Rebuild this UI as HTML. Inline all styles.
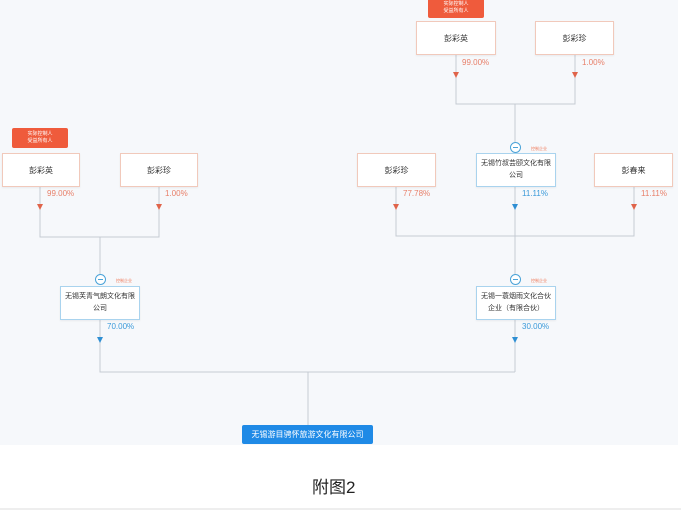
<!DOCTYPE html>
<html><head><meta charset="utf-8"><style>
body{margin:0;width:681px;height:511px;background:#fff;position:relative;overflow:hidden;font-family:"Liberation Sans","Noto Sans CJK SC",sans-serif}
.bg{position:absolute;left:0;top:0;width:678px;height:445px;background:#f6f8fb}
.b{position:absolute;background:#fff;border:1px solid #f1c9bb;box-sizing:border-box;font-size:8px;color:#333;display:flex;align-items:center;justify-content:center;text-align:center;line-height:13px;box-shadow:0 1px 2px rgba(0,0,0,.06);white-space:nowrap}
.c{border-color:#a9d3ee;font-size:7px;line-height:12px}
.t{position:absolute;background:#ef5b3c;color:#fff;font-size:5px;line-height:7px;text-align:center;border-radius:2px;padding-top:3px;box-sizing:border-box}
.p{position:absolute;font-size:8px;color:#e8806a}
.q{color:#3b9ad9}
.s{position:absolute;font-size:4px;color:#ef7a5a}
.ci{position:absolute;width:11px;height:11px;border:1px solid #4aa3d8;border-radius:50%;background:#fff;box-sizing:border-box}
.ci:after{content:"";position:absolute;left:2px;top:4px;width:5px;height:1px;background:#4aa3d8}
</style></head><body>
<div class="bg"></div>
<svg style="position:absolute;left:0;top:0" width="681" height="511">
<g stroke="#c5cbd3" stroke-width="1" fill="none">
<path d="M40 187V237H159V187M100 237V275M100 319V372H515M515 319V372M308 372V426"/>
<path d="M456 55V104H575V55M515 104V143M396 187V236H634V187M515 187V275"/>
</g>
<g fill="#e0644a">
<path d="M37 204h6l-3 6z"/><path d="M156 204h6l-3 6z"/>
<path d="M453 72h6l-3 6z"/><path d="M572 72h6l-3 6z"/>
<path d="M393 204h6l-3 6z"/><path d="M631 204h6l-3 6z"/>
</g>
<g fill="#2f8fd3">
<path d="M512 204h6l-3 6z"/><path d="M97 337h6l-3 6z"/><path d="M512 337h6l-3 6z"/>
</g>
<line x1="0" y1="509" x2="681" y2="509" stroke="#ddd"/>
</svg>
<div class="t" style="left:12px;top:128px;width:56px;height:20px">实际控制人<br>受益所有人</div>
<div class="b" style="left:2px;top:153px;width:78px;height:34px">彭彩英</div>
<div class="b" style="left:120px;top:153px;width:78px;height:34px">彭彩珍</div>
<div class="p" style="left:47px;top:189px">99.00%</div>
<div class="p" style="left:165px;top:189px">1.00%</div>
<div class="ci" style="left:95px;top:274px"></div>
<div class="s" style="left:116px;top:278px">控制企业</div>
<div class="b c" style="left:60px;top:286px;width:80px;height:34px">无锡芙青气朗文化有限<br>公司</div>
<div class="p q" style="left:107px;top:322px">70.00%</div>

<div class="t" style="left:428px;top:-2px;width:56px;height:20px">实际控制人<br>受益所有人</div>
<div class="b" style="left:416px;top:21px;width:80px;height:34px">彭彩英</div>
<div class="b" style="left:535px;top:21px;width:79px;height:34px">彭彩珍</div>
<div class="p" style="left:462px;top:58px">99.00%</div>
<div class="p" style="left:582px;top:58px">1.00%</div>
<div class="ci" style="left:510px;top:142px"></div>
<div class="s" style="left:531px;top:146px">控制企业</div>
<div class="b" style="left:357px;top:153px;width:79px;height:34px">彭彩珍</div>
<div class="b c" style="left:476px;top:153px;width:80px;height:34px">无锡竹叔芸颐文化有限<br>公司</div>
<div class="b" style="left:594px;top:153px;width:79px;height:34px">彭春来</div>
<div class="p" style="left:403px;top:189px">77.78%</div>
<div class="p q" style="left:522px;top:189px">11.11%</div>
<div class="p" style="left:641px;top:189px">11.11%</div>
<div class="ci" style="left:510px;top:274px"></div>
<div class="s" style="left:531px;top:278px">控制企业</div>
<div class="b c" style="left:476px;top:286px;width:80px;height:34px">无锡一蓑烟雨文化合伙<br>企业（有限合伙）</div>
<div class="p q" style="left:522px;top:322px">30.00%</div>

<div style="position:absolute;left:242px;top:425px;width:131px;height:19px;background:#1f8ae6;border-radius:2px;color:#fff;font-size:8px;line-height:19px;text-align:center">无锡游目骋怀旅游文化有限公司</div>
<div style="position:absolute;left:312px;top:473px;font-size:17px;color:#222">附图2</div>
</body></html>
